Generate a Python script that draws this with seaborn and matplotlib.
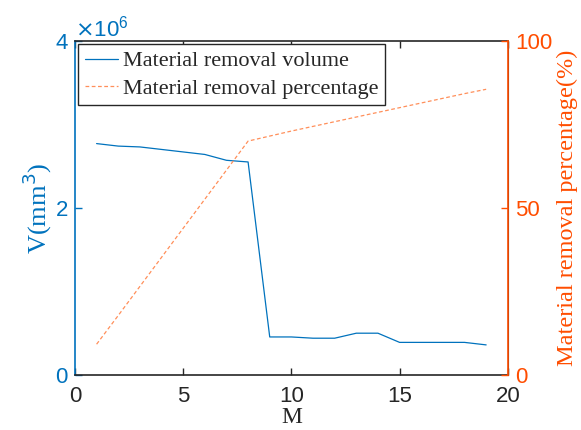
import numpy as np
import pandas as pd
import matplotlib
matplotlib.use("Agg")
import matplotlib.pyplot as plt
import seaborn as sns
from matplotlib.ticker import ScalarFormatter

# data
m_steps = [1, 2, 3, 4, 5, 6, 7, 8, 9, 10, 11, 12, 13, 14, 15, 16, 17, 18, 19]
volume = [2.77e6, 2.74e6, 2.73e6, 2.70e6, 2.67e6, 2.64e6, 2.57e6, 2.55e6,
          0.455e6, 0.455e6, 0.44e6, 0.44e6, 0.50e6, 0.50e6, 0.39e6, 0.39e6,
          0.39e6, 0.39e6, 0.36e6]
percentage = [9.2, 17.8, 26.5, 35.2, 43.9, 52.6, 61.3, 70.0, 71.5, 73.0,
              74.4, 75.8, 77.2, 78.6, 80.0, 81.4, 82.8, 84.2, 85.5]

df = pd.DataFrame({"M": m_steps, "V": volume, "P": percentage})

blue = "#0072BD"
axis_orange = "#FF4D00"
line_orange = "#FF8F5A"

sns.set_style("ticks")
plt.rcParams['font.family'] = ['Liberation Sans', 'DejaVu Sans']
serif = ['Liberation Serif', 'DejaVu Serif']

fig = plt.figure(figsize=(5.81, 4.30), dpi=100)
ax = fig.add_axes([0.129, 0.128, 0.745, 0.777])
ax2 = ax.twinx()

sns.lineplot(data=df, x="M", y="V", ax=ax, color=blue, linewidth=0.9,
             label="Material removal volume", legend=False)
sns.lineplot(data=df, x="M", y="P", ax=ax2, color=line_orange, linewidth=0.9,
             linestyle=(0, (3, 2)), label="Material removal percentage", legend=False)

ax.set_xlim(0, 20)
ax.set_ylim(0, 4e6)
ax2.set_ylim(0, 100)
ax.set_xticks([0, 5, 10, 15, 20])
ax.set_yticks([0, 2e6, 4e6])
ax2.set_yticks([0, 50, 100])

fmt = ScalarFormatter(useMathText=True)
fmt.set_powerlimits((0, 0))
ax.yaxis.set_major_formatter(fmt)
ax.yaxis.get_offset_text().set_color(blue)
ax.yaxis.get_offset_text().set_fontsize(16)

ax.tick_params(axis="x", direction="in", top=True, labelsize=16, colors="#262626",
               length=5, width=1, pad=8)
ax.tick_params(axis="y", direction="in", labelsize=16, colors=blue, length=5, width=1, pad=4.5)
ax2.tick_params(axis="y", direction="in", labelsize=16, colors=axis_orange, length=5,
                width=1, pad=5.5)

for name in ["top", "bottom"]:
    ax.spines[name].set_color("#262626")
    ax.spines[name].set_linewidth(1.2)
ax.spines["left"].set_color(blue)
ax.spines["left"].set_linewidth(1.2)
ax2.spines["right"].set_color(axis_orange)
ax2.spines["right"].set_linewidth(1.2)
ax2.spines["left"].set_visible(False)
ax2.spines["top"].set_visible(False)
ax2.spines["bottom"].set_visible(False)

ax.set_xlabel("M", family=serif, fontsize=17, color="#262626", labelpad=0)
ax.set_ylabel("V(mm$^3$)", family=serif, fontsize=19, color=blue, labelpad=1)
ax2.set_ylabel("Material removal percentage(%)", family=serif, fontsize=17.5,
               color=axis_orange, labelpad=3)

h1, l1 = ax.get_legend_handles_labels()
h2, l2 = ax2.get_legend_handles_labels()
leg = ax2.legend(h1 + h2, l1 + l2, loc="upper left", bbox_to_anchor=(0.0, 1.0),
                 prop={"family": serif, "size": 16}, frameon=True, fancybox=False,
                 edgecolor="#262626", framealpha=1, handlelength=1.5,
                 handletextpad=0.2, borderpad=0.3, labelspacing=0.3,
                 borderaxespad=0.15)
leg.get_frame().set_linewidth(1.0)

fig.savefig("out.png", dpi=100)
